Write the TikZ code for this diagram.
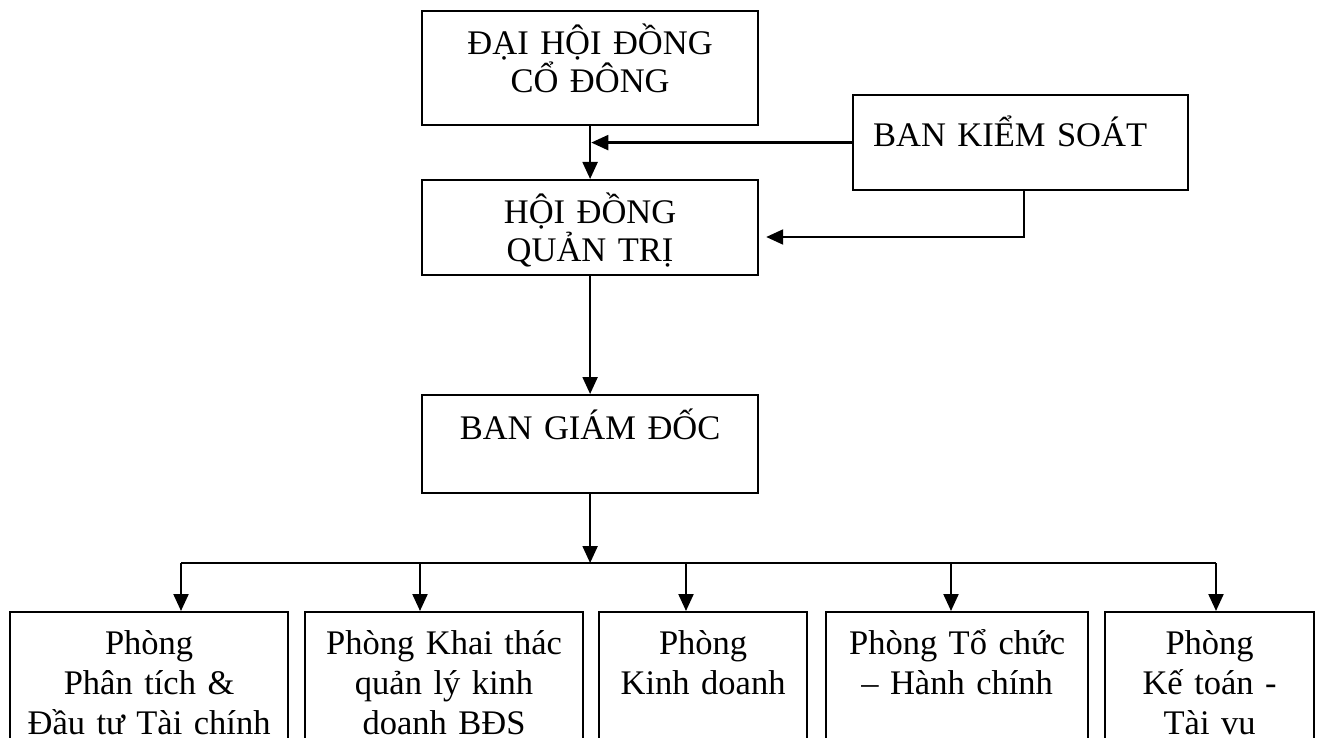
\documentclass[tikz,border=0pt]{standalone}
\usepackage{fontspec}
\setmainfont{Liberation Serif}
\usetikzlibrary{arrows.meta}
\tikzset{
  unit/.style={draw, line width=2.2pt, inner sep=0pt, anchor=north west, align=center},
  toptext/.style={font=\fontsize{34.5}{38.5}\selectfont},
  roomtext/.style={font=\fontsize{34.5}{40}\selectfont},
  link/.style={line width=2.2pt, -{Triangle[length=17pt,width=15pt]}},
  bar/.style={line width=2.2pt}
}
\begin{document}
\begin{tikzpicture}[x=1pt, y=-1pt]
  \useasboundingbox (0,0) rectangle (1317,738);
  % Upper levels
  \node[unit, toptext, text width=336pt, text height=43pt, text depth=71pt] (dhd) at (421,10) {ĐẠI HỘI ĐỒNG\\CỔ ĐÔNG};
  \node[unit, toptext, text width=295pt, inner xsep=20pt, align=left, text height=51pt, text depth=44pt] (bks) at (852,94) {BAN KIỂM SOÁT};
  \node[unit, toptext, text width=336pt, text height=43pt, text depth=52pt] (hdqt) at (421,179) {HỘI ĐỒNG\\QUẢN TRỊ};
  \node[unit, toptext, text width=336pt, text height=44pt, text depth=54pt] (bgd) at (421,394) {BAN GIÁM ĐỐC};
  % Departments
  \node[unit, roomtext, text width=278pt, text height=42pt, text depth=107pt] (p1) at (9,611) {Phòng\\Phân tích \&\\Đầu tư Tài chính};
  \node[unit, roomtext, text width=278pt, text height=42pt, text depth=107pt] (p2) at (304,611) {Phòng Khai thác\\quản lý kinh\\doanh BĐS};
  \node[unit, roomtext, text width=208pt, text height=42pt, text depth=107pt] (p3) at (598,611) {Phòng\\Kinh doanh};
  \node[unit, roomtext, text width=262pt, text height=42pt, text depth=107pt] (p4) at (825,611) {Phòng Tổ chức\\– Hành chính};
  \node[unit, roomtext, text width=209pt, text height=42pt, text depth=107pt] (p5) at (1104,611) {Phòng\\Kế toán -\\Tài vu};
  % Links between levels
  \draw[link] (dhd.south) -- (hdqt.north);
  \draw[link, shorten >=1.2pt] (bks.west) -- (bks.west -| dhd.south);
  \coordinate (ctrl) at (1024,237);
  \draw[link, shorten >=7pt] (bks.south -| ctrl) -- (ctrl) -- (ctrl -| hdqt.east);
  \draw[link] (hdqt.south) -- (bgd.north);
  \coordinate (bus) at (bgd.south |- 0,563);
  \draw[link] (bgd.south) -- (bus);
  % Bus to departments
  \foreach \n/\x in {1/181,2/420,3/686,4/951,5/1216}
    \coordinate (drop\n) at (\x,563);
  \draw[bar] (drop1) -- (drop5);
  \foreach \n in {1,...,5}
    \draw[link] (drop\n) -- (drop\n |- p\n.north);
\end{tikzpicture}
\end{document}
